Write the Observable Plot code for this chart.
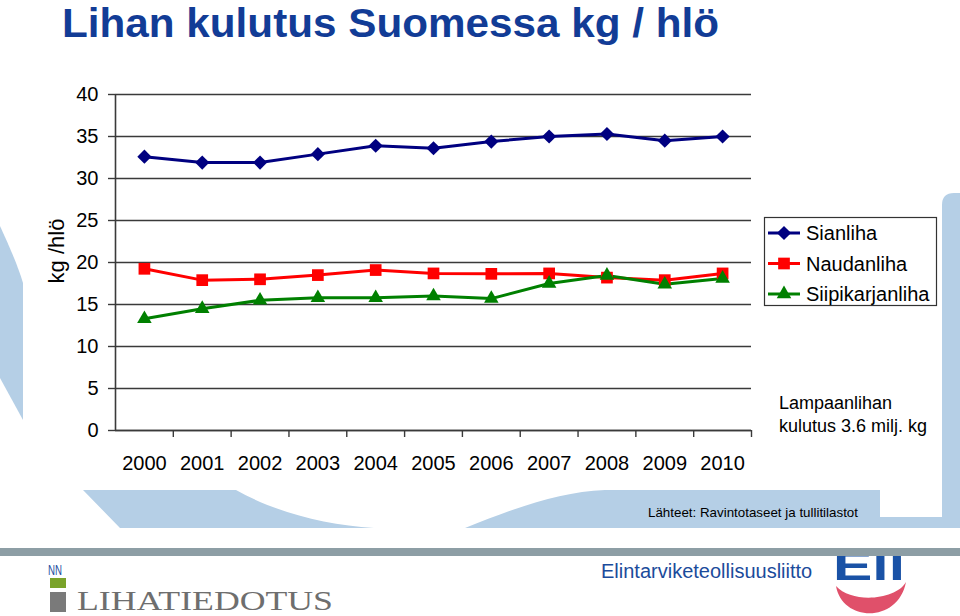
<!DOCTYPE html>
<html><head><meta charset="utf-8">
<script src="https://cdn.jsdelivr.net/npm/d3@7"></script>
<script src="https://cdn.jsdelivr.net/npm/@observablehq/plot@0.6"></script>
<style>
html,body{margin:0;padding:0;background:#fff;}
#page{position:relative;width:960px;height:616px;overflow:hidden;font-family:Arial,"Liberation Sans",sans-serif;}
.abs{position:absolute;left:0;top:0;}
</style></head><body>
<div id="page">
<svg id="bg" class="abs" width="960" height="616">
  <g fill="#b5cfe6">
    <path d="M0,226 C10,248 18,266 23,283 L23,420 L0,378 Z"/>
    <path d="M83,490 L236,490 C275,512 325,525 374,528 L120,528 Z"/>
    <path d="M465,528 C520,506 560,492 605,490 L880,490 L880,517 L942,517 L942,205 Q942,193 954,193 L960,193 L960,528 Z"/>
  </g>
</svg>
<div id="chart" class="abs"></div>
<svg id="fg" class="abs" width="960" height="616" style="font-family:Arial,'Liberation Sans',sans-serif"></svg>
</div>
<script>
// ---- data ----
const years = [2000, 2001, 2002, 2003, 2004, 2005, 2006, 2007, 2008, 2009, 2010];
const sianliha = [32.6, 31.9, 31.9, 32.9, 33.9, 33.6, 34.4, 35.0, 35.3, 34.5, 35.0];
const naudanliha = [19.25, 17.9, 18.0, 18.5, 19.1, 18.7, 18.65, 18.7, 18.2, 17.9, 18.7];
const siipikarjanliha = [13.3, 14.5, 15.5, 15.8, 15.8, 16.0, 15.7, 17.5, 18.45, 17.4, 18.1];
const seriesNames = ["Sianliha", "Naudanliha", "Siipikarjanliha"];
const yTicks = [0, 5, 10, 15, 20, 25, 30, 35, 40];

// ---- styles ----
const seriesStyle = [
  {color: "#000080", symbol: "diamond2", r: 6.4},
  {color: "#ff0000", symbol: "square", r: 6.6},
  {color: "#008000", symbol: "triangle", r: 5.4}
];
const seriesValues = [sianliha, naudanliha, siipikarjanliha];
const rows = seriesNames.flatMap((s, i) => years.map((yr, j) => ({series: s, year: yr, value: seriesValues[i][j]})));
const x0 = years[0] - 0.5, x1 = years[years.length - 1] + 0.5;
const boundaries = years.map(y => y + 0.5);

const axisColor = "#3a3a3a";
const chart = Plot.plot({
  width: 960, height: 480,
  marginLeft: 115, marginRight: 209, marginTop: 94, marginBottom: 50,
  style: {background: "none", fontFamily: "Arial, 'Liberation Sans', sans-serif", fontSize: "20px", color: "#000", overflow: "visible"},
  x: {type: "linear", domain: [x0, x1]},
  y: {domain: [0, 40]},
  marks: [
    Plot.gridY(yTicks, {stroke: axisColor, strokeOpacity: 1, strokeWidth: 1.4}),
    Plot.axisY(yTicks, {tickSize: 7, tickPadding: 10, fontSize: 20, label: null, stroke: axisColor, strokeWidth: 1.4, fill: "#000"}),
    Plot.axisX(years, {tickSize: 0, tickPadding: 25, tickFormat: d => String(d), label: null, fontSize: 20, fill: "#000"}),
    Plot.ruleX(boundaries, {y1: 0, y2: 0, insetBottom: -7, stroke: axisColor, strokeWidth: 1.4}),
    Plot.ruleX([x0], {y1: 0, y2: 40, stroke: axisColor, strokeWidth: 1.6}),
    Plot.ruleY([0], {stroke: axisColor, strokeWidth: 1.6}),
    ...seriesNames.map((s, i) => Plot.line(rows.filter(d => d.series === s), {x: "year", y: "value", stroke: seriesStyle[i].color, strokeWidth: 3})),
    ...seriesNames.map((s, i) => Plot.dot(rows.filter(d => d.series === s), {x: "year", y: "value", fill: seriesStyle[i].color, stroke: "none", symbol: seriesStyle[i].symbol, r: seriesStyle[i].r}))
  ]
});
document.getElementById("chart").appendChild(chart);

// ---- overlay text, legend, logos ----
const fg = d3.select("#fg");
fg.append("text").attr("x", 62).attr("y", 37).attr("font-size", 41).attr("font-weight", "bold")
  .attr("fill", "#123c96").attr("textLength", 657).attr("lengthAdjust", "spacingAndGlyphs")
  .text("Lihan kulutus Suomessa kg / hlö");
fg.append("text").attr("transform", "translate(64,251) rotate(-90)").attr("text-anchor", "middle")
  .attr("font-size", 22).attr("fill", "#000").text("kg /hlö");

// legend
const lg = fg.append("g");
lg.append("rect").attr("x", 764.5).attr("y", 217.5).attr("width", 172).attr("height", 88)
  .attr("fill", "#fff").attr("stroke", "#333").attr("stroke-width", 1.2);
const symMap = {diamond2: d3.symbolDiamond2, square: d3.symbolSquare, triangle: d3.symbolTriangle};
seriesNames.forEach((s, i) => {
  const cy = 233 + i * 30.5;
  const st = seriesStyle[i];
  lg.append("line").attr("x1", 768).attr("x2", 800).attr("y1", cy).attr("y2", cy)
    .attr("stroke", st.color).attr("stroke-width", 3);
  lg.append("path").attr("transform", `translate(784,${cy})`)
    .attr("d", d3.symbol(symMap[st.symbol], Math.PI * st.r * st.r)()).attr("fill", st.color);
  lg.append("text").attr("x", 806).attr("y", cy + 7).attr("font-size", 20).attr("fill", "#000").text(s);
});

// note
fg.append("text").attr("x", 779).attr("y", 409).attr("font-size", 18).attr("fill", "#000").text("Lampaanlihan");
fg.append("text").attr("x", 779).attr("y", 432).attr("font-size", 18).attr("fill", "#000").text("kulutus 3.6 milj. kg");

// source
fg.append("text").attr("x", 648).attr("y", 517).attr("font-size", 13).attr("textLength", 210)
  .attr("lengthAdjust", "spacingAndGlyphs").attr("fill", "#000").text("Lähteet:  Ravintotaseet ja tullitilastot");

// logos
fg.append("text").attr("x", 833).attr("y", 580).attr("font-size", 40).attr("font-weight", "bold")
  .attr("fill", "#1a52a6").attr("textLength", 72).attr("lengthAdjust", "spacingAndGlyphs").text("Ell");
fg.append("rect").attr("x", 0).attr("y", 538).attr("width", 960).attr("height", 10).attr("fill", "#fff");
fg.append("rect").attr("x", 0).attr("y", 548).attr("width", 960).attr("height", 8).attr("fill", "#8d9ea5");
fg.append("path").attr("d", "M836,586 C842,622 898,624 906,582 C896,600 852,604 836,586 Z").attr("fill", "#e0506a");
fg.append("text").attr("x", 601).attr("y", 578).attr("font-size", 20).attr("fill", "#1b4b9b").text("Elintarviketeollisuusliitto");
fg.append("text").attr("x", 48).attr("y", 575).attr("font-size", 14).attr("fill", "#1f4fa0")
  .attr("textLength", 14).attr("lengthAdjust", "spacingAndGlyphs").text("NN");
fg.append("rect").attr("x", 50).attr("y", 578).attr("width", 16).attr("height", 10).attr("fill", "#7aa32a");
fg.append("rect").attr("x", 50).attr("y", 592).attr("width", 16).attr("height", 20).attr("fill", "#7a7a7a");
fg.append("text").attr("x", 77).attr("y", 610).attr("font-size", 27).attr("font-family", "'Liberation Serif', 'DejaVu Serif', serif")
  .attr("fill", "#6e6e6e").attr("textLength", 256).attr("lengthAdjust", "spacingAndGlyphs").text("LIHATIEDOTUS");
</script>
</body></html>
